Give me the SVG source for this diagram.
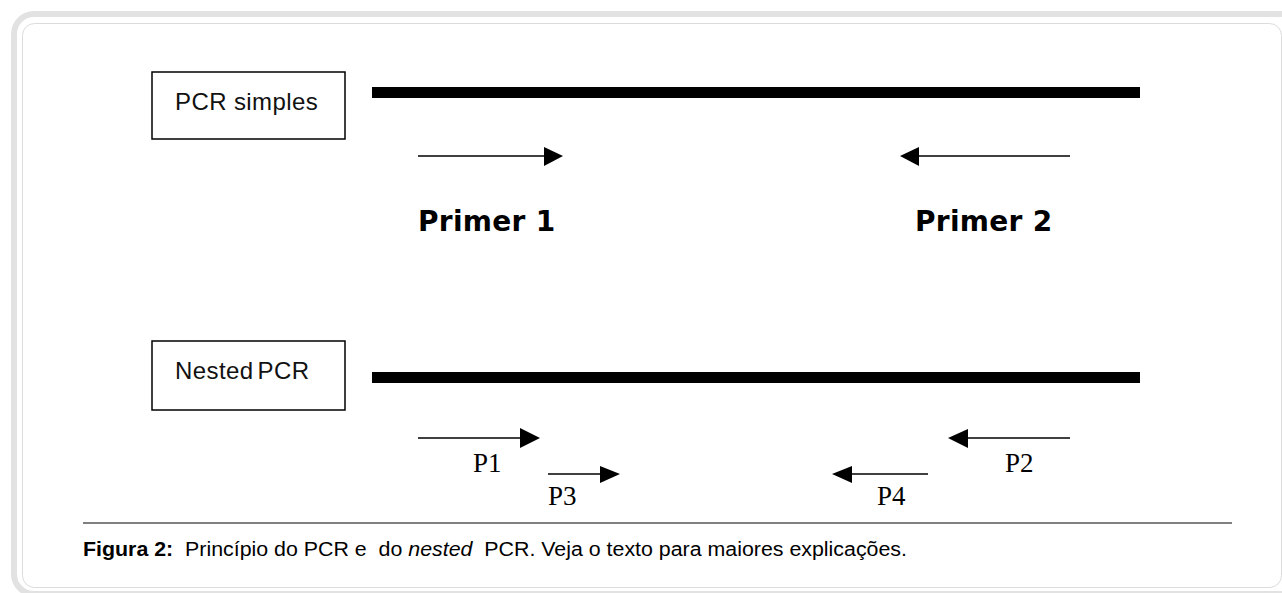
<svg xmlns="http://www.w3.org/2000/svg" width="1282" height="593" viewBox="0 0 1282 593">
<style>
.box{fill:#fff;stroke:#000;stroke-width:1.5}
.lbl{font-family:"Liberation Sans",Arial,sans-serif;font-size:24px;fill:#111;letter-spacing:0.4px}
.primer{font-family:"DejaVu Sans","Liberation Sans",sans-serif;font-weight:bold;font-size:28px;fill:#000;letter-spacing:0.3px}
.p{font-family:"Liberation Serif","Times New Roman",serif;font-size:27px;fill:#000}
.bar{fill:#000}
.ln{stroke:#000;stroke-width:1.6;fill:none}
.hd{fill:#000}
.cap{font-family:"Liberation Sans",Arial,sans-serif;font-size:20px;fill:#000;white-space:pre}
</style>
<rect x="0" y="0" width="1282" height="593" fill="#fff"/>
<rect x="14" y="14" width="1300" height="580" rx="20" fill="none" stroke="#e2e2e2" stroke-width="6"/>
<rect x="22.5" y="23.5" width="1259" height="564" rx="12" fill="#fff" stroke="#dcdcdc" stroke-width="1"/>

<g id="node-pcr-simples">
<rect class="box" x="152" y="72" width="193" height="67"/>
<text class="lbl" x="175" y="110">PCR simples</text>
</g>
<g id="node-nested-pcr">
<rect class="box" x="152" y="341" width="193" height="69"/>
<text class="lbl" x="175" y="379" word-spacing="-3">Nested PCR</text>
</g>
<g id="node-dna-1"><rect class="bar" x="372" y="87" width="768" height="11"/></g>
<g id="node-dna-2"><rect class="bar" x="372" y="372" width="768" height="11"/></g>

<g id="node-primer1-label"><text class="primer" x="418" y="231">Primer 1</text></g>
<g id="node-primer2-label"><text class="primer" x="915" y="231">Primer 2</text></g>
<g id="node-p1"><text class="p" x="473" y="472">P1</text></g>
<g id="node-p2"><text class="p" x="1005" y="472">P2</text></g>
<g id="node-p3"><text class="p" x="548" y="505">P3</text></g>
<g id="node-p4"><text class="p" x="877" y="505">P4</text></g>

<g id="connectors">
<line class="ln" x1="418" y1="156" x2="546" y2="156"/>
<polygon class="hd" points="563,156 544,147 544,166"/>
<line class="ln" x1="918" y1="156" x2="1070" y2="156"/>
<polygon class="hd" points="900,156 919,147 919,166"/>
<line class="ln" x1="418" y1="438" x2="522" y2="438"/>
<polygon class="hd" points="540,438 520,428 520,448"/>
<line class="ln" x1="966" y1="438" x2="1070" y2="438"/>
<polygon class="hd" points="948,438 968,429 968,448"/>
<line class="ln" x1="548" y1="474" x2="602" y2="474"/>
<polygon class="hd" points="620,474 600,466 600,483"/>
<line class="ln" x1="850" y1="474" x2="928" y2="474"/>
<polygon class="hd" points="832,474 852,466 852,483"/>
</g>

<line x1="83" y1="523" x2="1232" y2="523" stroke="#808080" stroke-width="2"/>
<text class="cap" x="83" y="556" xml:space="preserve" textLength="824" lengthAdjust="spacingAndGlyphs"><tspan font-weight="bold">Figura 2:</tspan>  Princípio do PCR e  do <tspan font-style="italic">nested</tspan>  PCR. Veja o texto para maiores explicações.</text>
</svg>
